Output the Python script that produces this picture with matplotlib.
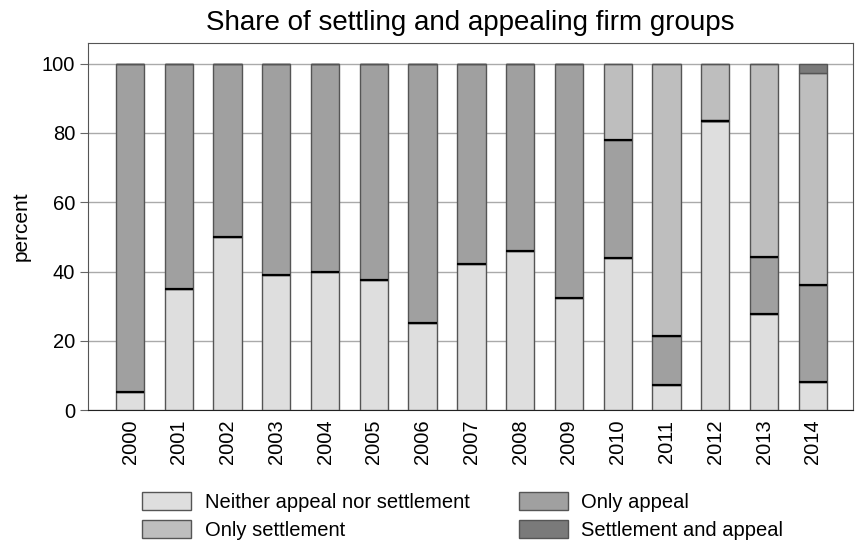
import matplotlib.pyplot as plt
import numpy as np

plt.rcParams['font.family'] = ['Liberation Sans', 'DejaVu Sans']

years = ['2000', '2001', '2002', '2003', '2004', '2005', '2006', '2007',
         '2008', '2009', '2010', '2011', '2012', '2013', '2014']

neither = [5.3, 34.9, 49.9, 39.0, 39.8, 37.6, 25.0, 42.1, 46.0, 32.3, 43.8, 7.2, 83.5, 27.7, 8.2]
only_appeal = [94.7, 65.1, 50.1, 61.0, 60.2, 62.4, 75.0, 57.9, 54.0, 67.7, 34.2, 14.2, 0.0, 16.6, 27.9]
only_settlement = [0, 0, 0, 0, 0, 0, 0, 0, 0, 0, 22.0, 78.6, 16.5, 55.7, 61.2]
settle_appeal = [0, 0, 0, 0, 0, 0, 0, 0, 0, 0, 0, 0, 0, 0, 2.7]

fig = plt.figure(figsize=(8.55, 5.49), dpi=100)
ax = fig.add_axes([0.103, 0.253, 0.895, 0.669])

x = np.arange(len(years))
w = 0.58
edge = '#555555'
b1 = ax.bar(x, neither, w, color='#dedede', edgecolor=edge, linewidth=1, zorder=3,
            label='Neither appeal nor settlement')
bottom = np.array(neither)
b2 = ax.bar(x, only_appeal, w, bottom=bottom, color='#a0a0a0', edgecolor=edge, linewidth=1,
            zorder=3, label='Only appeal')
bottom = bottom + np.array(only_appeal)
b3 = ax.bar(x, only_settlement, w, bottom=bottom, color='#bebebe', edgecolor=edge, linewidth=1,
            zorder=3, label='Only settlement')
bottom = bottom + np.array(only_settlement)
b4 = ax.bar(x, settle_appeal, w, bottom=bottom, color='#7a7a7a', edgecolor=edge, linewidth=1,
            zorder=3, label='Settlement and appeal')

# dark separator lines between segments
tops = np.array(neither)
for vals in [only_appeal, only_settlement]:
    for i in range(len(years)):
        if 0 < tops[i] < 99.9:
            ax.hlines(tops[i], x[i] - w / 2, x[i] + w / 2, color='black', lw=1.6, zorder=4)
    tops = tops + np.array(vals)

ax.set_xlim(-0.86, 14.83)
ax.set_ylim(0, 106)
ax.set_yticks([0, 20, 40, 60, 80, 100])
ax.set_xticks(x)
ax.set_xticklabels(years, rotation=90)
ax.tick_params(axis='x', length=0, labelsize=14.5, pad=7)
ax.tick_params(axis='y', length=5.8, labelsize=14.5, color='#666666', pad=3.5)
ax.yaxis.grid(True, color='#aaaaaa', lw=1)
ax.set_axisbelow(True)
for s in ['top', 'right', 'left']:
    ax.spines[s].set_color('#555555')
ax.spines['bottom'].set_color('#222222')
ax.set_ylabel('percent', fontsize=15, labelpad=8)
ax.set_title('Share of settling and appealing firm groups', fontsize=20, pad=9)

fig.legend([b1, b3, b2, b4],
           ['Neither appeal nor settlement', 'Only settlement', 'Only appeal', 'Settlement and appeal'],
           ncol=2, loc='center', bbox_to_anchor=(0.541, 0.06), frameon=False,
           fontsize=14.5, handlelength=2.44, handleheight=1.0, columnspacing=2.44,
           labelspacing=0.4, handletextpad=0.65)

fig.savefig('out.png', dpi=100)
